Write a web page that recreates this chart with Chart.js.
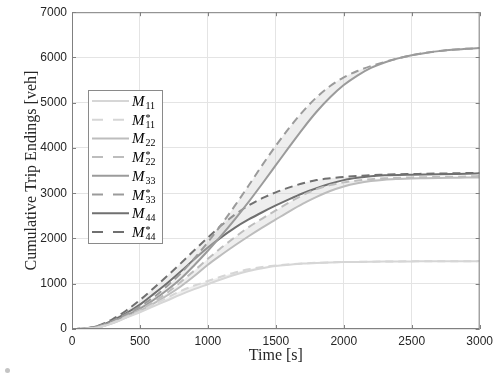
<!DOCTYPE html>
<html>
<head>
<meta charset="utf-8">
<script src="https://cdn.jsdelivr.net/npm/chart.js@4"></script>
<style>
  body { margin: 0; background: #fff; }
  #wrap { position: relative; width: 498px; height: 377px; }
  #dot { position: absolute; left: 5px; top: 368px; width: 5px; height: 5px; border-radius: 50%; background: #c4c4c4; }
</style>
</head>
<body>
<div id="wrap">
  <canvas id="chart" width="498" height="377"></canvas>
  <div id="dot"></div>
</div>
<script>
// time axis (s)
var times = [0,100,200,300,400,500,600,700,800,900,1000,1100,1200,1300,1400,1500,
             1600,1700,1800,1900,2000,2100,2200,2300,2400,2500,2600,2700,2800,2900,3000];

// cumulative trip endings (veh)
var m11  = [0,5,40,130,250,370,500,630,760,880,990,1100,1200,1280,1340,1390,1420,1445,1460,1470,1478,1483,1487,1490,1492,1494,1495,1496,1497,1498,1500];
var m11s = [0,6,45,140,265,390,540,690,840,960,1060,1160,1250,1320,1370,1405,1430,1450,1463,1472,1479,1484,1488,1491,1493,1495,1496,1497,1498,1499,1500];
var m22  = [0,5,40,130,260,400,560,740,940,1170,1420,1640,1850,2050,2240,2420,2600,2770,2920,3050,3150,3220,3270,3300,3315,3325,3330,3335,3340,3345,3350];
var m22s = [0,6,45,140,280,420,600,800,1040,1290,1550,1800,2030,2250,2440,2620,2800,2960,3090,3180,3240,3280,3310,3330,3340,3350,3355,3360,3365,3370,3380];
var m33  = [0,10,60,160,300,450,640,860,1110,1410,1730,2070,2430,2810,3210,3620,4030,4430,4800,5120,5390,5600,5770,5890,5980,6050,6100,6140,6170,6190,6210];
var m33s = [0,12,70,180,330,500,700,950,1230,1560,1920,2310,2730,3170,3620,4050,4450,4810,5120,5370,5560,5700,5810,5900,5980,6050,6100,6140,6170,6190,6210];
var m44  = [0,10,70,190,350,540,770,1010,1270,1540,1800,2030,2240,2420,2580,2730,2870,3000,3110,3210,3290,3340,3375,3395,3405,3410,3415,3420,3425,3430,3440];
var m44s = [0,12,80,220,410,640,900,1170,1450,1740,2020,2290,2530,2730,2890,3020,3130,3220,3290,3330,3360,3380,3400,3410,3420,3425,3430,3435,3440,3445,3450];

var seriesNames = ['M11', 'M11*', 'M22', 'M22*', 'M33', 'M33*', 'M44', 'M44*'];
var seriesData = [m11, m11s, m22, m22s, m33, m33s, m44, m44s];
var greys = ['#d6d6d6', '#d6d6d6', '#bdbdbd', '#bdbdbd', '#9b9b9b', '#9b9b9b', '#707070', '#707070'];

function pts(arr) {
  return arr.map(function (v, i) { return { x: times[i], y: v }; });
}

var datasets = seriesData.map(function (arr, i) {
  var starred = i % 2 === 1;
  return {
    label: seriesNames[i],
    data: pts(arr),
    borderColor: greys[i],
    borderWidth: 2,
    borderDash: starred ? [8, 5] : [],
    pointRadius: 0,
    cubicInterpolationMode: 'monotone',
    fill: starred ? '-1' : false,
    backgroundColor: 'rgba(205,205,205,0.35)'
  };
});

var serif = "'Liberation Serif', 'DejaVu Serif', serif";
var sans = "'Liberation Sans', Arial, sans-serif";

// MATLAB style box with inward ticks
var boxPlugin = {
  id: 'box',
  afterDraw: function (chart) {
    var ctx = chart.ctx, a = chart.chartArea;
    var xs = chart.scales.x, ys = chart.scales.y;
    ctx.save();
    ctx.strokeStyle = '#808080';
    ctx.lineWidth = 1;
    ctx.strokeRect(a.left + 0.5, a.top + 0.5, a.right - a.left - 1, a.bottom - a.top - 1);
    ctx.beginPath();
    xs.ticks.forEach(function (t) {
      var px = Math.round(xs.getPixelForValue(t.value)) + 0.5;
      ctx.moveTo(px, a.bottom); ctx.lineTo(px, a.bottom - 4);
      ctx.moveTo(px, a.top); ctx.lineTo(px, a.top + 4);
    });
    ys.ticks.forEach(function (t) {
      var py = Math.round(ys.getPixelForValue(t.value)) + 0.5;
      ctx.moveTo(a.left, py); ctx.lineTo(a.left + 4, py);
      ctx.moveTo(a.right, py); ctx.lineTo(a.right - 4, py);
    });
    ctx.stroke();
    ctx.restore();
  }
};

// legend with subscripts
var legendPlugin = {
  id: 'texLegend',
  afterDraw: function (chart) {
    var ctx = chart.ctx;
    var bx = 88, by = 90, bw = 74, bh = 153;
    ctx.save();
    ctx.fillStyle = '#fff';
    ctx.fillRect(bx, by, bw, bh);
    ctx.strokeStyle = '#8a8a8a';
    ctx.lineWidth = 1;
    ctx.strokeRect(bx + 0.5, by + 0.5, bw, bh);
    chart.data.datasets.forEach(function (ds, i) {
      var y = 101 + i * 18.7;
      ctx.beginPath();
      ctx.strokeStyle = ds.borderColor;
      ctx.lineWidth = 2;
      ctx.setLineDash(ds.borderDash.length ? [11, 10] : []);
      ctx.moveTo(92, y); ctx.lineTo(129, y);
      ctx.stroke();
      ctx.setLineDash([]);
      var name = ds.label;
      var star = name.indexOf('*') >= 0;
      var sub = name.replace('M', '').replace('*', '');
      ctx.fillStyle = '#000';
      ctx.textBaseline = 'alphabetic';
      ctx.font = 'italic 15px ' + serif;
      ctx.fillText('M', 132, y + 5);
      var w = ctx.measureText('M').width;
      ctx.font = '10px ' + serif;
      ctx.fillText(sub, 132 + w + 1, y + 8);
      if (star) {
        ctx.fillText('*', 132 + w + 1, y + 1);
      }
    });
    ctx.restore();
  }
};

var ctx = document.getElementById('chart').getContext('2d');
var chart = new Chart(ctx, {
  type: 'line',
  data: { datasets: datasets },
  plugins: [boxPlugin, legendPlugin],
  options: {
    responsive: false,
    animation: false,
    layout: { padding: { top: 3, right: 14, bottom: 0, left: 0 } },
    plugins: { legend: { display: false }, tooltip: { enabled: false } },
    scales: {
      x: {
        type: 'linear',
        min: 0,
        max: 3000,
        afterFit: function (s) { s.height = 48; },
        ticks: {
          stepSize: 500, padding: 5, color: '#262626', maxRotation: 0,
          font: { family: sans, size: 12 },
          callback: function (v) { return String(v); }
        },
        grid: { color: '#e4e4e4', drawTicks: false },
        border: { display: false },
        title: { display: true, text: 'Time [s]', color: '#262626', font: { family: serif, size: 16 }, padding: { top: 0, bottom: 12 } }
      },
      y: {
        min: 0,
        max: 7000,
        afterFit: function (s) { s.width = 72; },
        ticks: {
          stepSize: 1000, padding: 5, color: '#262626',
          font: { family: sans, size: 12 },
          callback: function (v) { return String(v); }
        },
        grid: { color: '#e4e4e4', drawTicks: false },
        border: { display: false },
        title: { display: true, text: 'Cumulative Trip Endings [veh]', color: '#262626', font: { family: serif, size: 16 }, padding: { top: 22, bottom: 0 } }
      }
    }
  }
});
</script>
</body>
</html>
